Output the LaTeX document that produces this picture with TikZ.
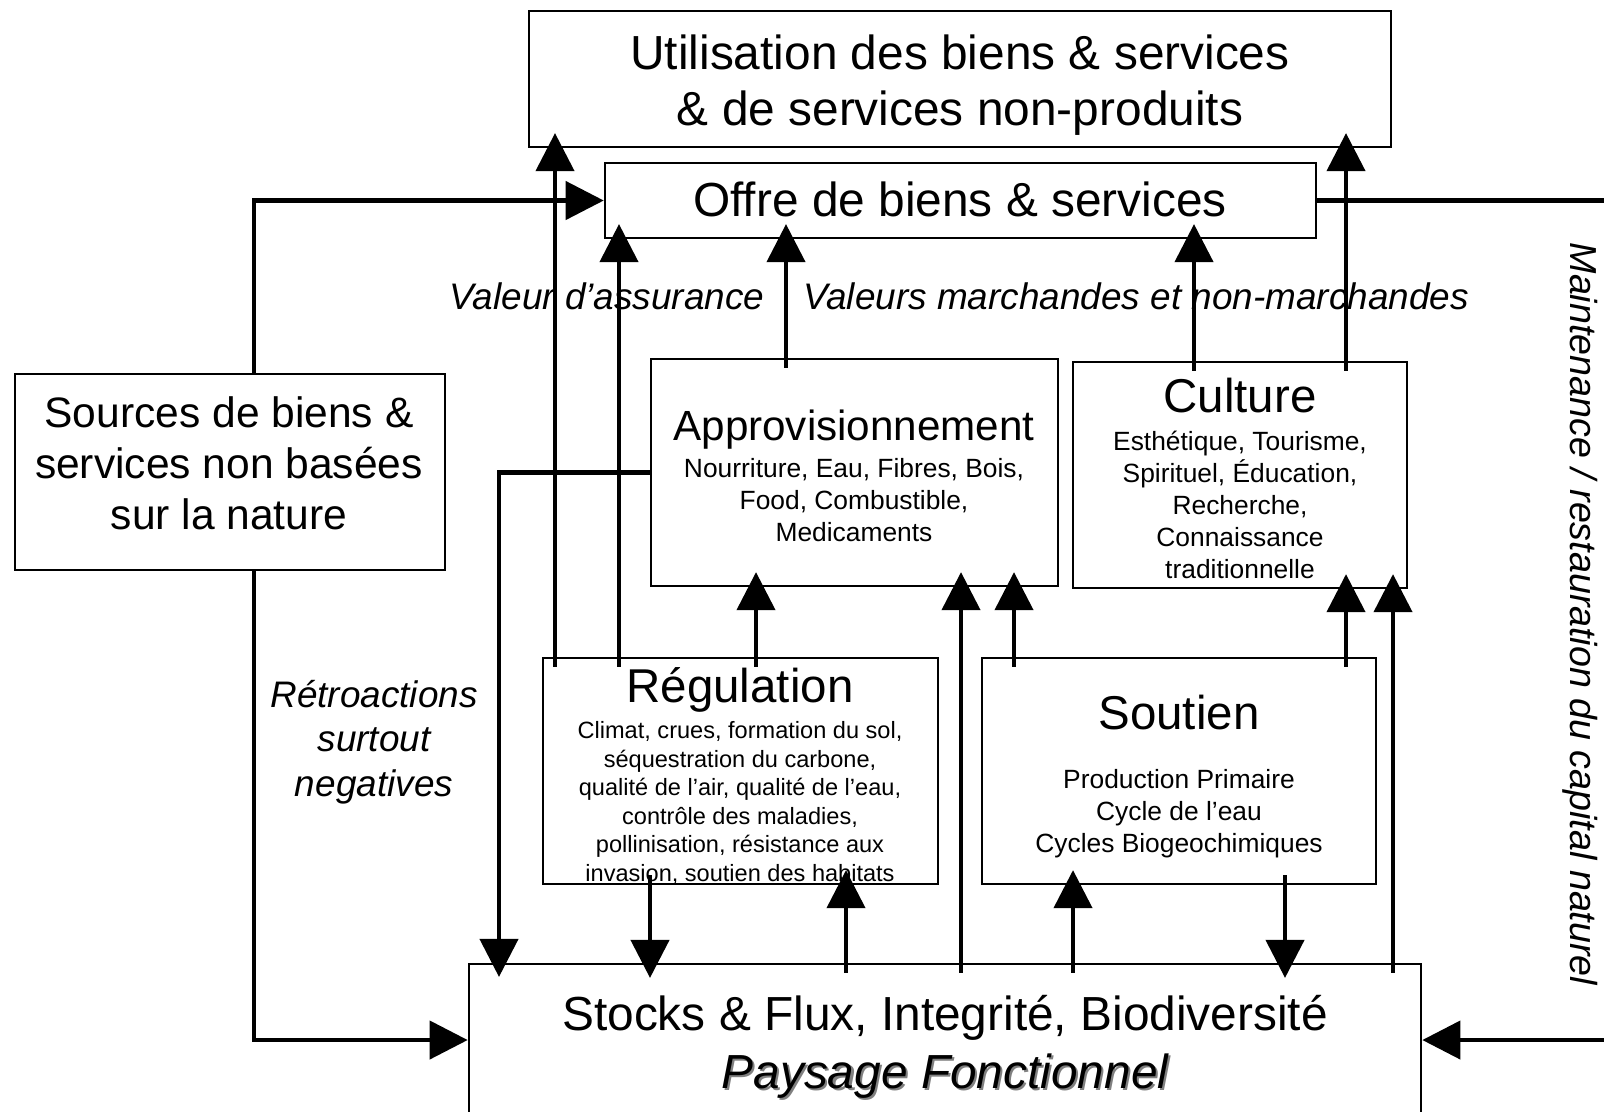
\documentclass[tikz,border=0pt]{standalone}
\usepackage{fontspec}
\setmainfont{Liberation Sans}
\usetikzlibrary{arrows.meta}

\tikzset{
  box/.style={draw, line width=0.6pt, inner sep=0pt},
  grand/.style={align=center, font=\fontsize{13.6}{16}\selectfont},
  titre/.style={font=\fontsize{13.5}{16}\selectfont},
  corps/.style={align=center, font=\fontsize{7.5}{9.1}\selectfont},
  corpsreg/.style={align=center, font=\fontsize{6.7}{8.1}\selectfont},
  lbl/.style={align=center, font=\fontsize{10.5}{12.7}\selectfont\itshape},
  flow/.style={line width=1.2pt, -{Triangle[length=0.38cm,width=0.38cm]}},
  vflow/.style={flow, shorten <=-0.1cm, shorten >=-0.15cm},
  link/.style={line width=1.2pt},
}

\begin{document}
\begin{tikzpicture}[x=0.01cm, y=-0.01cm]
	\clip (0,0) rectangle (1604,1111);
	
	% boites
	\node[box, minimum width=8.62cm, minimum height=1.36cm] (use) at (960,79) {};
	\node[box, minimum width=7.11cm, minimum height=0.75cm] (off) at (960.5,200.5) {};
	\node[box, minimum width=4.30cm, minimum height=1.96cm] (src) at (230,472) {};
	\node[box, minimum width=4.07cm, minimum height=2.27cm] (app) at (854.5,472.5) {};
	\node[box, minimum width=3.34cm, minimum height=2.26cm] (cul) at (1240,475) {};
	\node[box, minimum width=3.95cm, minimum height=2.26cm] (reg) at (740.5,771) {};
	\node[box, minimum width=3.94cm, minimum height=2.26cm] (sou) at (1179,771) {};
	\node[box, minimum width=9.52cm, minimum height=1.61cm] (sto) at (945,1044.5) {};
	
	% textes
	\node[grand] (usetxt) at (960,85) {Utilisation des biens \& services\\\& de services non-produits};
	\node[grand] (offtxt) at (960,199) {Offre de biens \& services};
	\node[align=center, font=\fontsize{12.1}{14.5}\selectfont] (srctxt) at (229,463) {Sources de biens \&\\services non basées\\sur la nature};
	\node[font=\fontsize{12}{14}\selectfont] (apptit) at (854,430) {Approvisionnement};
	\node[corps] (appbody) at (854,500) {Nourriture, Eau, Fibres, Bois,\\Food, Combustible,\\Medicaments};
	\node[titre] (cultit) at (1240,396) {Culture};
	\node[corps] (culbody) at (1240,505) {Esthétique, Tourisme,\\Spirituel, Éducation,\\Recherche,\\Connaissance\\traditionnelle};
	\node[titre] (regtit) at (740,690) {Régulation};
	\node[corpsreg] (regbody) at (740,803) {Climat, crues, formation du sol,\\séquestration du carbone,\\qualité de l’air, qualité de l’eau,\\contrôle des maladies,\\pollinisation, résistance aux\\invasion, soutien des habitats};
	\node[titre] (soutit) at (1179,713) {Soutien};
	\node[corps] (soubody) at (1179,814) {Production Primaire\\Cycle de l’eau\\Cycles Biogeochimiques};
	\node[align=center, font=\fontsize{13.6}{16.6}\selectfont] (stotxt) at (945,1048) {Stocks \& Flux, Integrité, Biodiversité\\{\itshape\rlap{\kern0.6pt\raisebox{-0.6pt}{\textcolor{gray}{Paysage Fonctionnel}}}Paysage Fonctionnel}};
	
	\node[lbl] (assur) at (607,296) {Valeur d’assurance};
	\node[lbl] (valeurs) at (1136,296) {Valeurs marchandes et non-marchandes};
	\node[lbl] (retro) at (374,742) {Rétroactions\\surtout\\negatives};
	\node[lbl, font=\fontsize{10.7}{12.7}\selectfont\itshape, rotate=-90] (maint) at (1580,614) {Maintenance / restauration du capital naturel};
	
	% colonnes des fleches
	\coordinate (edge) at (1604,0);
	\coordinate (rang) at (0,1040);
	\foreach \x in {254,499,555,619,650,756,786,846,961,1014,1073,1194,1285,1346,1393}
		\coordinate (k\x) at (\x,0);
	
	\draw[vflow] (reg.north -| k555) -- (use.south -| k555);
	\draw[vflow] (reg.north -| k619) -- (off.south -| k619);
	\draw[vflow] (reg.north -| k756) -- (app.south -| k756);
	\draw[vflow] (app.north -| k786) -- (off.south -| k786);
	\draw[vflow] (cul.north -| k1194) -- (off.south -| k1194);
	\draw[vflow] (cul.north -| k1346) -- (use.south -| k1346);
	\draw[vflow] (sou.north -| k1346) -- (cul.south -| k1346);
	\draw[vflow] (sou.north -| k1014) -- (app.south -| k1014);
	\draw[vflow] (reg.south -| k650) -- (sto.north -| k650);
	\draw[vflow] (sto.north -| k846) -- (reg.south -| k846);
	\draw[vflow] (sto.north -| k961) -- (app.south -| k961);
	\draw[vflow] (sto.north -| k1073) -- (sou.south -| k1073);
	\draw[vflow] (sou.south -| k1285) -- (sto.north -| k1285);
	\draw[vflow] (sto.north -| k1393) -- (cul.south -| k1393);
	
	% boucles
	\draw[flow] (src.north -| k254) |- (off.west);
	\draw[flow] (src.south -| k254) |- (sto.west |- rang);
	\draw[flow, shorten >=-0.14cm] (app.west) -| (sto.north -| k499);
	\draw[link] (off.east) -- (off.east -| edge);
	\draw[flow] (edge |- rang) -- (sto.east |- rang);
\end{tikzpicture}
\end{document}
